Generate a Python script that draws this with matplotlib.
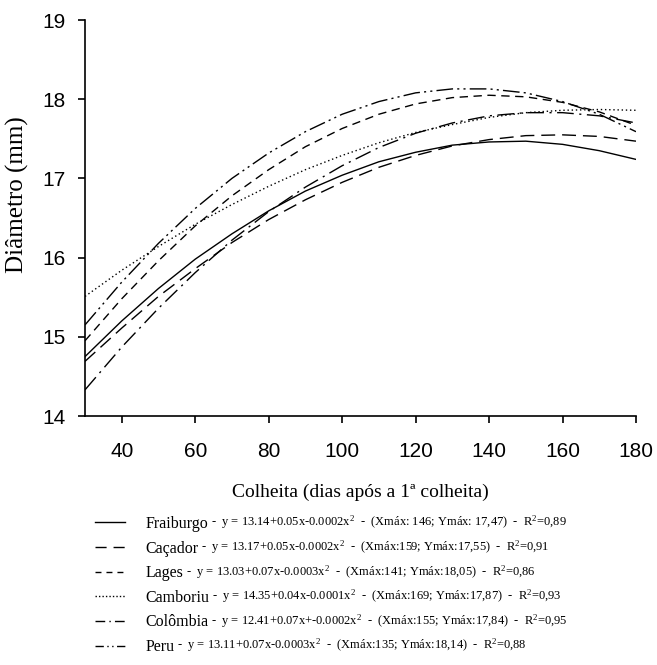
import matplotlib
matplotlib.use("Agg")
import matplotlib.pyplot as plt
from matplotlib.lines import Line2D
from matplotlib.text import Annotation

plt.rcParams['mathtext.fontset'] = 'custom'
plt.rcParams['mathtext.rm'] = 'Liberation Serif'
plt.rcParams['mathtext.it'] = 'Liberation Serif:italic'

# days after first harvest
dias = [30, 40, 50, 60, 70, 80, 90, 100, 110, 120, 130, 140, 150, 160, 170, 180]

# fruit diameter (mm)
fraiburgo = [14.75, 15.20, 15.61, 15.98, 16.30, 16.59, 16.84, 17.04, 17.21, 17.33, 17.42, 17.46, 17.47, 17.43, 17.35, 17.24]
cacador = [14.69, 15.11, 15.51, 15.86, 16.19, 16.48, 16.73, 16.95, 17.14, 17.29, 17.41, 17.49, 17.54, 17.55, 17.53, 17.47]
lages = [14.95, 15.48, 15.96, 16.40, 16.78, 17.11, 17.40, 17.63, 17.81, 17.94, 18.02, 18.05, 18.03, 17.96, 17.84, 17.67]
camboriu = [15.51, 15.84, 16.14, 16.42, 16.67, 16.90, 17.11, 17.29, 17.45, 17.58, 17.68, 17.77, 17.83, 17.86, 17.87, 17.86]
colombia = [14.33, 14.87, 15.36, 15.81, 16.22, 16.58, 16.89, 17.16, 17.39, 17.57, 17.70, 17.79, 17.83, 17.83, 17.79, 17.70]
peru = [15.15, 15.69, 16.18, 16.62, 17.00, 17.32, 17.59, 17.81, 17.97, 18.08, 18.13, 18.13, 18.08, 17.97, 17.81, 17.59]

nomes = ["Fraiburgo", "Caçador", "Lages", "Camboriu", "Colômbia", "Peru"]
equacoes = [
    " -  y = 13.14+0.05x-0.0002x$^2$  -  (Xmáx: 146; Ymáx: 17,47)  -  R$^2$=0,89",
    " -  y = 13.17+0.05x-0.0002x$^2$  -  (Xmáx:159; Ymáx:17,55)  -  R$^2$=0,91",
    " -  y = 13.03+0.07x-0.0003x$^2$  -  (Xmáx:141; Ymáx:18,05)  -  R$^2$=0,86",
    " -  y = 14.35+0.04x-0.0001x$^2$  -  (Xmáx:169; Ymáx:17,87)  -  R$^2$=0,93",
    " -  y = 12.41+0.07x+-0.0002x$^2$  -  (Xmáx:155; Ymáx:17,84)  -  R$^2$=0,95",
    " -  y = 13.11+0.07x-0.0003x$^2$  -  (Xmáx:135; Ymáx:18,14)  -  R$^2$=0,88",
]
series = [fraiburgo, cacador, lages, camboriu, colombia, peru]
estilos = ['-', (0, (10, 5)), (0, (6, 4)), (0, (1, 2)),
           (0, (12, 4, 1.5, 4)), (0, (12, 3, 1.5, 3, 1.5, 3))]
# shorter patterns so each short legend sample shows the full motif
estilos_leg = ['-', (0, (8, 5)), (0, (4.3, 3.6)), (0, (1, 1.5)),
               (0, (7, 3, 1, 3)), (0, (6, 2.5, 1, 2.5, 1, 2.5))]

fig = plt.figure(figsize=(6.57, 6.65), dpi=100)
ax = fig.add_axes([85/657, 1-416/665, (636-85)/657, (416-20)/665])

for y, nome, ls in zip(series, nomes, estilos):
    ax.plot(dias, y, color='black', linestyle=ls, linewidth=1.0, label=nome)

ax.set_xlim(30, 180)
ax.set_ylim(14, 19)
ax.set_xticks(range(40, 181, 20))
ax.set_yticks(range(14, 20))
for s in ['top', 'right']:
    ax.spines[s].set_visible(False)
for s in ['left', 'bottom']:
    ax.spines[s].set_linewidth(1.2)
ax.tick_params(direction='out', length=5, width=1.2, labelsize=15)
ax.tick_params(axis='x', pad=14)
ax.tick_params(axis='y', pad=9)
for lab in ax.get_xticklabels() + ax.get_yticklabels():
    lab.set_family('Liberation Sans')

ax.set_xlabel("Colheita (dias após a 1ª colheita)", family='Liberation Serif', fontsize=14, labelpad=16)
ax.set_ylabel("Diâmetro (mm)", family='Liberation Serif', fontsize=18)
ax.yaxis.set_label_coords(-0.102, 0.56)

handles = [Line2D([], [], color='black', linestyle=ls, linewidth=1.0) for ls in estilos_leg]
leg = fig.legend(handles, nomes, loc='upper left', bbox_to_anchor=(95/657, 1-516/665), frameon=False,
                 prop={'family': 'Liberation Serif', 'size': 11.5}, handlelength=1.9,
                 handletextpad=1.25, labelspacing=0.54, borderpad=0, borderaxespad=0)

# equations next to each legend name, drawn after the legend
for txt, eq in zip(leg.get_texts(), equacoes):
    ann = Annotation(eq, xy=(1, 0), xycoords=txt, xytext=(0, 0.5), textcoords='offset points',
                     va='bottom', ha='left', family='Liberation Serif', fontsize=9,
                     annotation_clip=False)
    ann.set_zorder(10)
    fig.add_artist(ann)

fig.savefig('out.png', dpi=100)
